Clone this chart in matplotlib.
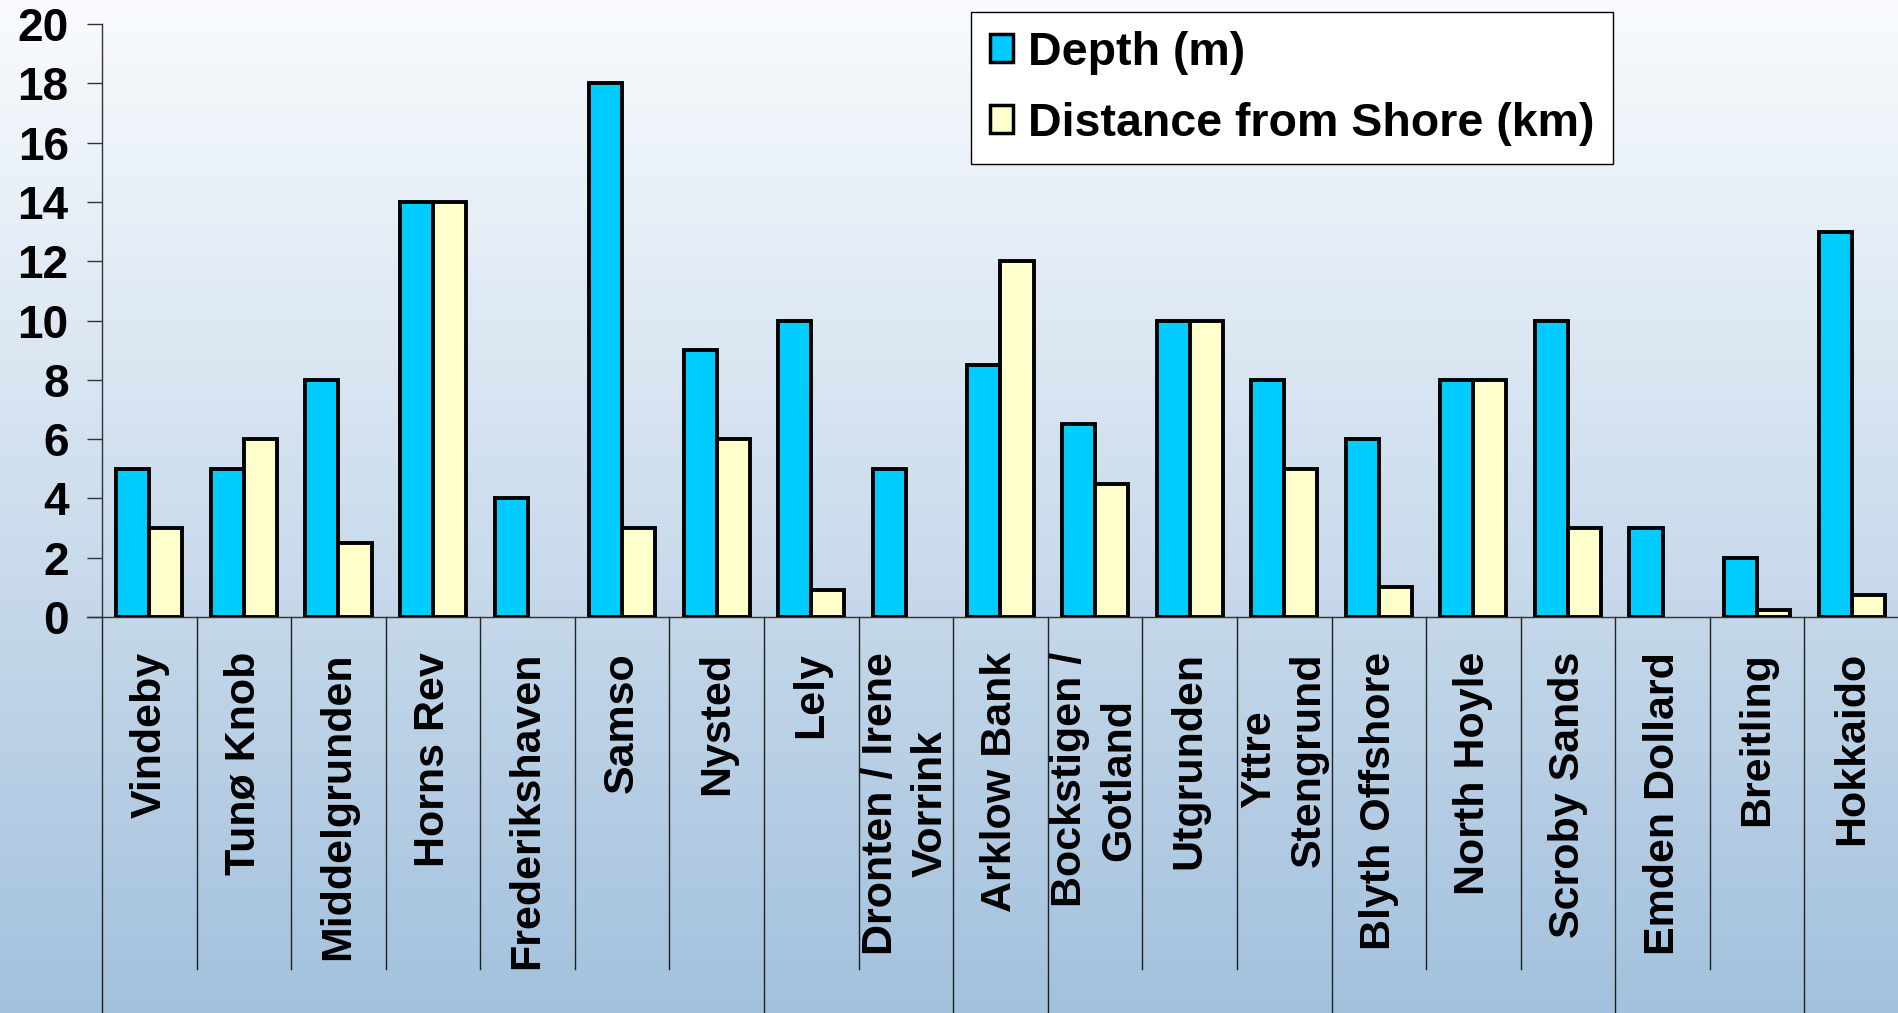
import numpy as np
import matplotlib
matplotlib.use("Agg")
import matplotlib.pyplot as plt
from matplotlib.patches import Patch
from matplotlib.transforms import blended_transform_factory

plt.rcParams['font.family'] = ['Liberation Sans', 'DejaVu Sans']
plt.rcParams['font.weight'] = 'bold'

sites = ['Vindeby', 'Tunø Knob', 'Middelgrunden', 'Horns Rev', 'Frederikshaven',
         'Samso', 'Nysted', 'Lely', 'Dronten / Irene\nVorrink', 'Arklow Bank',
         'Bockstigen /\nGotland', 'Utgrunden', 'Yttre\nStengrund', 'Blyth Offshore',
         'North Hoyle', 'Scroby Sands', 'Emden Dollard', 'Breitling', 'Hokkaido']
depth = [5, 5, 8, 14, 4, 18, 9, 10, 5, 8.5, 6.5, 10, 8, 6, 8, 10, 3, 2, 13]
distance = [3, 6, 2.5, 14, 0, 3, 6, 0.9, 0, 12, 4.5, 10, 5, 1, 8, 3, 0, 0.25, 0.75]
# sites per country group along the category axis
group_sizes = [7, 2, 1, 3, 3, 2, 1]
yticks = [0, 2, 4, 6, 8, 10, 12, 14, 16, 18, 20]

W, H = 1899, 1013
fig = plt.figure(figsize=(W / 100, H / 100), dpi=100)

# vertical background gradient
bg = fig.add_axes([0, 0, 1, 1], zorder=-10)
top = np.array([249, 251, 254]) / 255
bot = np.array([163, 193, 221]) / 255
t = np.linspace(0, 1, 256)[:, None]
grad = top + (bot - top) * t
bg.imshow(grad[:, None, :], aspect='auto', extent=[0, 1, 0, 1])
bg.axis('off')

ax = fig.add_axes([102 / W, 1 - 617 / H, 1 - 102 / W, (617 - 24) / H])
ax.patch.set_alpha(0)

x = np.arange(len(sites))
bw = 0.35
ax.bar(x - bw / 2, depth, bw, color='#00CCFF', edgecolor='black', linewidth=2.8,
       label='Depth (m)', zorder=3)
dist_vals = np.array(distance)
shown = dist_vals > 0
ax.bar((x + bw / 2)[shown], dist_vals[shown], bw, color='#FFFFCC', edgecolor='black',
       linewidth=2.8, label='Distance from Shore (km)', zorder=3)

ax.set_xlim(-0.5, len(sites) - 0.5)
ax.set_ylim(0, 20)
ax.set_yticks(yticks)
ax.tick_params(axis='y', length=11, width=1, color='#333333', pad=13, labelsize=33)
ax.tick_params(axis='x', length=0, labelbottom=False)
for s in ['top', 'right']:
    ax.spines[s].set_visible(False)
ax.spines['left'].set_color('#333333')
ax.spines['bottom'].set_color('#333333')
ax.spines['left'].set_linewidth(1)
ax.spines['bottom'].set_linewidth(1)
ax.plot([-0.66, -0.5], [0, 0], color='#333333', lw=1, clip_on=False)

# category labels
lab_tr = blended_transform_factory(ax.transData, fig.transFigure)
for i, name in enumerate(sites):
    ax.text(i, 1 - 652 / H, name, transform=lab_tr, rotation=90, ha='center', va='top',
            multialignment='center', fontsize=31, fontweight='bold', linespacing=1.3)

# separators: long at country boundaries, short elsewhere
bounds = np.concatenate([[0], np.cumsum(group_sizes)])
for i in range(len(sites) + 1):
    y_end = 0 if i in bounds else 1 - 969 / H
    ax.plot([i - 0.5, i - 0.5], [1 - 617 / H, y_end], transform=lab_tr,
            color='#222222', lw=1, clip_on=False)

handles = [Patch(facecolor='#00CCFF', edgecolor='black', linewidth=2.5),
           Patch(facecolor='#FFFFCC', edgecolor='black', linewidth=2.5)]
leg = ax.legend(handles, ['Depth (m)', 'Distance from Shore (km)'], loc='upper left',
                bbox_to_anchor=(971 / W, 1 - 12 / H), bbox_transform=fig.transFigure,
                prop={'weight': 'bold', 'size': 33.5}, frameon=True,
                fancybox=False, edgecolor='black', framealpha=1, borderpad=0.4,
                handlelength=0.5, handleheight=0.55, handletextpad=0.33,
                labelspacing=0.58, borderaxespad=0)
leg.get_frame().set_linewidth(1)

fig.savefig('out.png', dpi=100)
